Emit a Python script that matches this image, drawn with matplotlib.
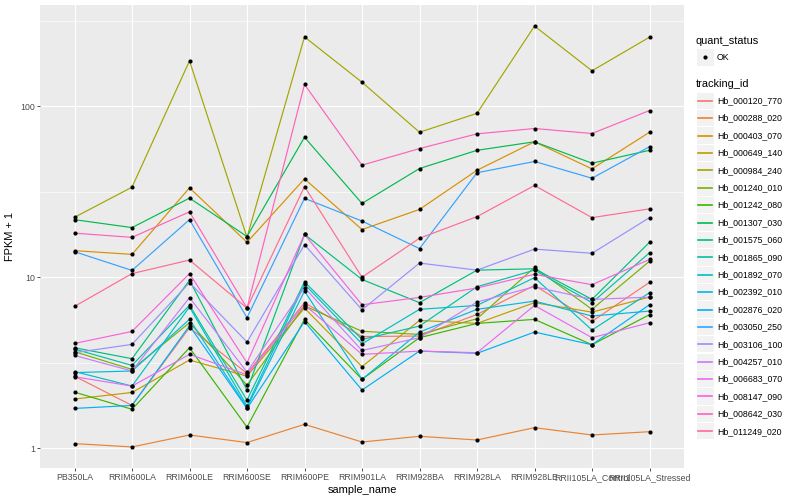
import numpy as np
import matplotlib
matplotlib.use('Agg')
import matplotlib.pyplot as plt
from matplotlib.patches import Rectangle

plt.rcParams['font.family'] = ['Liberation Sans', 'DejaVu Sans']

# muestras (eje x)
samples = ['PB350LA', 'RRIM600LA', 'RRIM600LE', 'RRIM600SE', 'RRIM600PE',
           'RRIM901LA', 'RRIM928BA', 'RRIM928LA', 'RRIM928LE',
           'RRII105LA_Control', 'RRII105LA_Stressed']

tracking_ids = ['Hb_000120_770', 'Hb_000288_020', 'Hb_000403_070', 'Hb_000649_140',
                'Hb_000984_240', 'Hb_001240_010', 'Hb_001242_080', 'Hb_001307_030',
                'Hb_001575_060', 'Hb_001865_090', 'Hb_001892_070', 'Hb_002392_010',
                'Hb_002876_020', 'Hb_003050_250', 'Hb_003106_100', 'Hb_004257_010',
                'Hb_006683_070', 'Hb_008147_090', 'Hb_008642_030', 'Hb_011249_020']

# paleta hue de ggplot para 20 niveles
colores = ['#F8766D', '#EA8331', '#D89000', '#C09B00', '#A3A500', '#7CAE00',
           '#39B600', '#00BB4E', '#00BF7D', '#00C1A3', '#00BFC4', '#00BAE0',
           '#00B0F6', '#35A2FF', '#9590FF', '#C77CFF', '#E76BF3', '#FA62DB',
           '#FF62BC', '#FF6C91']

# FPKM + 1 por gen, en el orden de samples
hb_000120_770 = [2.64, 1.78, 5.07, 2.74, 7.1, 4.5, 4.53, 6.06, 8.96, 5.52, 9.33]
hb_000288_020 = [1.065, 1.018, 1.196, 1.08, 1.38, 1.088, 1.175, 1.118, 1.32, 1.196, 1.25]
hb_000403_070 = [14.3, 13.6, 33.3, 16.0, 37.6, 19.0, 24.9, 42.2, 61.9, 43.0, 70.4]
hb_000649_140 = [1.94, 2.12, 3.28, 2.64, 6.6, 3.0, 5.59, 5.37, 7.1, 6.25, 7.65]
hb_000984_240 = [22.4, 33.6, 184, 17.1, 254, 138, 70.4, 90.8, 294, 161, 253]
hb_001240_010 = [3.67, 2.89, 5.42, 2.34, 6.8, 4.83, 4.63, 5.72, 11.4, 6.49, 12.4]
hb_001242_080 = [2.13, 1.69, 3.87, 1.33, 5.67, 2.53, 4.43, 5.37, 5.67, 4.03, 6.04]
hb_001307_030 = [21.7, 19.5, 29.0, 17.3, 65.8, 27.0, 43.2, 55.2, 61.9, 46.4, 55.2]
hb_001575_060 = [3.87, 3.34, 9.6, 2.19, 17.8, 9.7, 7.1, 11.0, 11.2, 7.42, 16.0]
hb_001865_090 = [3.8, 3.05, 6.86, 1.91, 9.4, 4.33, 5.18, 8.8, 11.0, 7.1, 13.9]
hb_001892_070 = [2.81, 2.31, 6.7, 1.77, 9.1, 4.08, 6.49, 6.84, 9.94, 4.91, 8.12]
hb_002392_010 = [2.77, 2.83, 5.67, 1.73, 8.3, 2.53, 4.78, 6.49, 7.25, 5.93, 6.34]
hb_002876_020 = [1.71, 1.78, 5.2, 1.71, 5.5, 2.19, 3.70, 3.59, 4.78, 4.03, 6.91]
hb_003050_250 = [14.1, 10.96, 21.7, 5.8, 28.9, 21.3, 14.7, 40.8, 47.5, 37.9, 57.9]
hb_003106_100 = [3.62, 4.05, 9.3, 4.18, 15.5, 6.45, 12.1, 11.0, 14.6, 13.8, 22.3]
hb_004257_010 = [3.49, 2.83, 7.6, 2.79, 8.7, 3.73, 4.43, 7.16, 8.8, 7.42, 7.65]
hb_006683_070 = [2.62, 2.31, 3.54, 2.69, 6.9, 3.54, 3.70, 3.62, 6.84, 4.43, 5.42]
hb_008147_090 = [4.1, 4.82, 10.5, 3.16, 17.8, 6.9, 7.62, 8.65, 10.4, 9.04, 12.7]
hb_008642_030 = [18.1, 17.1, 24.1, 6.6, 134, 45.2, 56.5, 68.9, 74.0, 69.2, 94.3]
hb_011249_020 = [6.75, 10.5, 12.6, 6.6, 33.9, 10.0, 16.9, 22.6, 34.4, 22.3, 25.1]

series = [hb_000120_770, hb_000288_020, hb_000403_070, hb_000649_140, hb_000984_240,
          hb_001240_010, hb_001242_080, hb_001307_030, hb_001575_060, hb_001865_090,
          hb_001892_070, hb_002392_010, hb_002876_020, hb_003050_250, hb_003106_100,
          hb_004257_010, hb_006683_070, hb_008147_090, hb_008642_030, hb_011249_020]

fig = plt.figure(figsize=(8, 5), dpi=100)
ax = fig.add_axes([40 / 800, 32 / 500, 644 / 800, 463 / 500])
ax.set_facecolor('#EBEBEB')

x = np.arange(len(samples))
for vals, col in zip(series, colores):
    ax.plot(x, vals, color=col, lw=0.85, zorder=2)
for vals in series:
    ax.plot(x, vals, 'o', color='black', ms=3.0, mew=0, zorder=3)

# escala log10 con expansion de 5%
ax.set_yscale('log')
todos = np.log10(np.concatenate([np.array(s) for s in series]))
rango = todos.max() - todos.min()
ax.set_ylim(10 ** (todos.min() - 0.05 * rango), 10 ** (todos.max() + 0.05 * rango))
ax.set_xlim(-0.6, len(samples) - 0.4)

ax.set_yticks([1, 10, 100])
ax.set_yticklabels(['1', '10', '100'])
ax.set_yticks([10 ** 0.5, 10 ** 1.5, 10 ** 2.5], minor=True)
ax.set_xticks(x)
ax.set_xticklabels(samples)

ax.grid(which='major', color='white', lw=0.85)
ax.grid(which='minor', axis='y', color='white', lw=0.45)
ax.set_axisbelow(True)
for s in ax.spines.values():
    s.set_visible(False)
ax.tick_params(which='major', colors='#333333', labelcolor='#4D4D4D',
               labelsize=6.3, length=2, width=0.6, pad=1.5)
ax.tick_params(which='minor', length=0)

ax.set_xlabel('sample_name', fontsize=7.9, labelpad=2.5)
ax.set_ylabel('FPKM + 1', fontsize=7.9, labelpad=4)

# leyenda a mano, en pixeles
lg = fig.add_axes([0, 0, 1, 1])
lg.set_xlim(0, 800)
lg.set_ylim(500, 0)
lg.axis('off')

lg.text(696, 41, 'quant_status', fontsize=7.9, va='center')
lg.add_patch(Rectangle((696.5, 48.6), 17.3, 17.3, fc='#F2F2F2', ec='none'))
lg.plot([705.2], [57.3], 'o', color='black', ms=3.0, mew=0)
lg.text(717, 57.3, 'OK', fontsize=6.3, va='center')

lg.text(696, 84, 'tracking_id', fontsize=7.9, va='center')
for i, (nombre, col) in enumerate(zip(tracking_ids, colores)):
    yc = 100.7 + 17.4 * i
    lg.add_patch(Rectangle((696.5, yc - 8.2), 17.3, 16.4, fc='#F2F2F2', ec='none'))
    lg.plot([698, 712], [yc, yc], color=col, lw=1.2)
    lg.text(717, yc, nombre, fontsize=6.3, va='center')

fig.savefig('out.png', dpi=100)
